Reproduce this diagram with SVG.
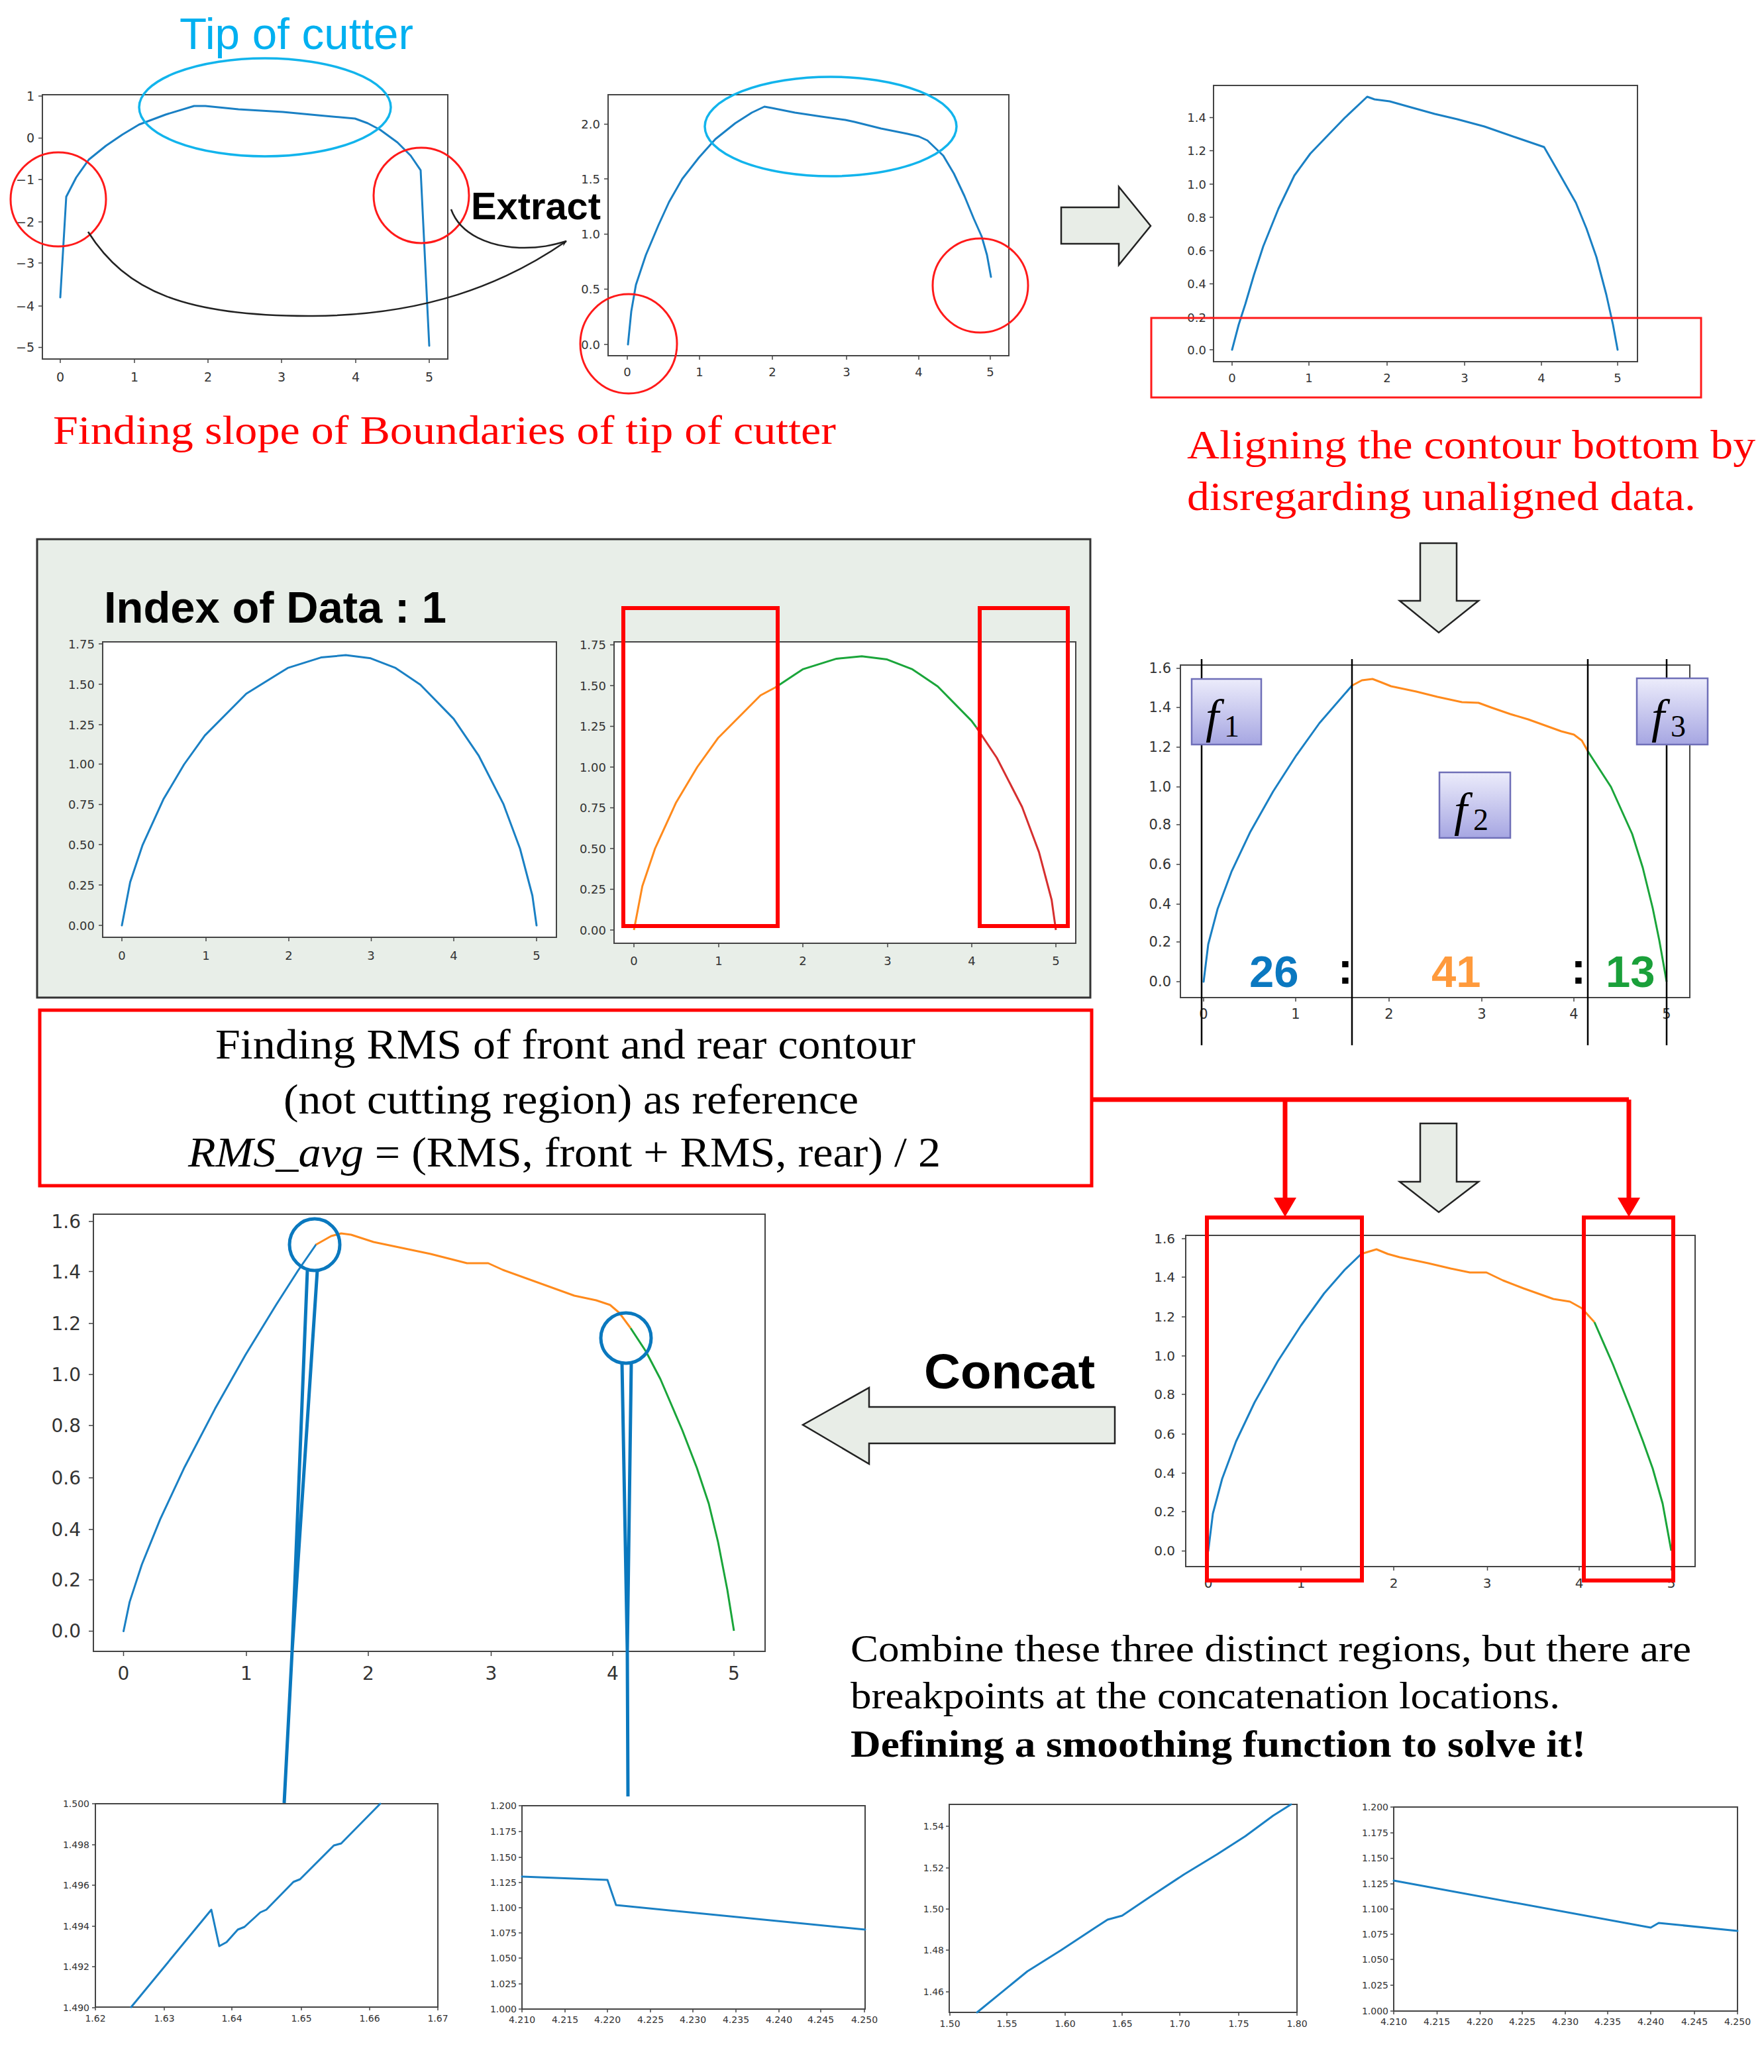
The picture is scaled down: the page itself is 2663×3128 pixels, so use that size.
<svg xmlns="http://www.w3.org/2000/svg" width="2663" height="3128" viewBox="0 0 2663 3128">
<style>
.ax{fill:#fff;stroke:#444;stroke-width:2}
.tk{stroke:#444;stroke-width:1.5;fill:none}
.tl{font-family:'DejaVu Sans',sans-serif;fill:#333}
.e{text-anchor:end}
.m{text-anchor:middle}
.cb{fill:none;stroke:#1a80c4;stroke-width:3;stroke-linejoin:round;stroke-linecap:round}
.co{fill:none;stroke:#ff8a1c;stroke-width:3;stroke-linejoin:round}
.cg{fill:none;stroke:#1aa53a;stroke-width:3;stroke-linejoin:round}
.cr{fill:none;stroke:#d62f2f;stroke-width:3;stroke-linejoin:round}
.redc{fill:none;stroke:#ff1a1a;stroke-width:3}
.cyc{fill:none;stroke:#12b4ec;stroke-width:3.5}
.rbox{fill:none;stroke:#ff0000;stroke-width:6}
.blk{fill:#e8ede7;stroke:#222;stroke-width:2.5}
.serif{font-family:'Liberation Serif','Times New Roman',serif}
.sans{font-family:'Liberation Sans',Arial,sans-serif}
.fbox{fill:url(#fg);stroke:#6f6fb8;stroke-width:2.5}
.callout{fill:none;stroke:#0a78be;stroke-width:5;stroke-linejoin:round}
</style>
<defs>
<linearGradient id="fg" x1="0" y1="0" x2="0" y2="1">
<stop offset="0" stop-color="#ececfb"/>
<stop offset="1" stop-color="#a6a6e2"/>
</linearGradient>
<marker id="ah" viewBox="0 0 12 10" refX="11" refY="5" markerWidth="9" markerHeight="9" orient="auto" markerUnits="userSpaceOnUse">
<path d="M0,0 L12,5 L0,10 L4,5 Z" fill="#111"/>
</marker>
</defs>
<rect width="2663" height="3128" fill="#fff"/>

<!-- Top-left plot -->
<g id="plot1">
<rect class="ax" x="64" y="143" width="612" height="399"/>
<path class="tk" d="M58,145H64M58,208.5H64M58,271H64M58,335H64M58,397H64M58,462H64M58,524.5H64M91,542V548M203,542V548M314,542V548M425,542V548M537,542V548M648,542V548"/>
<g class="tl e" font-size="19">
<text x="52" y="152">1</text><text x="52" y="215">0</text><text x="52" y="278">−1</text><text x="52" y="342">−2</text><text x="52" y="404">−3</text><text x="52" y="469">−4</text><text x="52" y="531">−5</text>
</g>
<g class="tl m" font-size="19">
<text x="91" y="576">0</text><text x="203" y="576">1</text><text x="314" y="576">2</text><text x="425" y="576">3</text><text x="537" y="576">4</text><text x="648" y="576">5</text>
</g>
<polyline class="cb" points="91,449 100,297 115,268 134,241 160,220 185,203 210,188 250,173 293,160 310,160 360,165 427,169 480,174 536,179 555,186 574,196 600,215 620,235 635,257 648,522"/>
<ellipse class="cyc" cx="400" cy="162" rx="190" ry="74"/>
<ellipse class="redc" cx="88" cy="301" rx="72" ry="71"/>
<ellipse class="redc" cx="636" cy="295" rx="72" ry="72"/>
</g>
<text id="tip-label" class="sans" x="271" y="74" font-size="66" fill="#00b0f0" textLength="353" lengthAdjust="spacingAndGlyphs">Tip of cutter</text>
<text id="extract-label" class="sans" x="711" y="331" font-size="57" font-weight="bold" fill="#000" textLength="196" lengthAdjust="spacingAndGlyphs">Extract</text>
<text id="caption1" class="serif" x="80" y="670" font-size="62" fill="#ff0000" textLength="1182" lengthAdjust="spacingAndGlyphs">Finding slope of Boundaries of tip of cutter</text>

<!-- Top-middle plot -->
<g id="plot2">
<rect class="ax" x="918" y="143" width="605" height="394"/>
<path class="tk" d="M912,187.5H918M912,270H918M912,353.6H918M912,436.6H918M912,520H918M947,537V543M1056,537V543M1166,537V543M1278,537V543M1387,537V543M1495,537V543"/>
<g class="tl e" font-size="18">
<text x="906" y="194">2.0</text><text x="906" y="277">1.5</text><text x="906" y="360">1.0</text><text x="906" y="443">0.5</text><text x="906" y="527">0.0</text>
</g>
<g class="tl m" font-size="18">
<text x="947" y="568">0</text><text x="1056" y="568">1</text><text x="1166" y="568">2</text><text x="1278" y="568">3</text><text x="1387" y="568">4</text><text x="1495" y="568">5</text>
</g>
<polyline class="cb" points="948,520 953,470 960,430 975,385 994,340 1010,305 1030,270 1055,238 1080,210 1110,186 1135,170 1154,161 1165,163 1200,170 1240,176 1276,181 1290,184 1330,194 1370,202 1387,206 1400,212 1424,235 1440,262 1456,296 1470,330 1482,357 1490,385 1496,418"/>
<ellipse class="cyc" cx="1254" cy="191" rx="190" ry="75"/>
<ellipse class="redc" cx="949" cy="519" rx="73" ry="75"/>
<ellipse class="redc" cx="1480" cy="431" rx="72" ry="71"/>
</g>

<!-- Top-right plot -->
<g id="plot3">
<rect class="ax" x="1832" y="129" width="640" height="417"/>
<path class="tk" d="M1826,177.5H1832M1826,227.6H1832M1826,278H1832M1826,328H1832M1826,378.6H1832M1826,428.6H1832M1826,479.6H1832M1826,528H1832M1860,546V552M1976,546V552M2094,546V552M2211,546V552M2327,546V552M2442,546V552"/>
<g class="tl e" font-size="18">
<text x="1821" y="184">1.4</text><text x="1821" y="234">1.2</text><text x="1821" y="285">1.0</text><text x="1821" y="335">0.8</text><text x="1821" y="385">0.6</text><text x="1821" y="435">0.4</text><text x="1821" y="486">0.2</text><text x="1821" y="535">0.0</text>
</g>
<g class="tl m" font-size="18">
<text x="1860" y="577">0</text><text x="1976" y="577">1</text><text x="2094" y="577">2</text><text x="2211" y="577">3</text><text x="2327" y="577">4</text><text x="2442" y="577">5</text>
</g>
<polyline class="cb" points="1860,528 1870,490 1880,459 1893,415 1907,372 1930,315 1954,265 1978,232 2002,207 2030,178 2064,146 2075,150 2098,153 2130,162 2166,172 2200,180 2241,191 2290,208 2331,222 2350,255 2379,306 2395,345 2410,388 2425,445 2435,490 2442,528"/>
<rect x="1738" y="480" width="830" height="120" fill="none" stroke="#ff1a1a" stroke-width="3"/>
</g>
<text id="caption2a" class="serif" x="1792" y="692" font-size="62" fill="#ff0000" textLength="858" lengthAdjust="spacingAndGlyphs">Aligning the contour bottom by</text>
<text id="caption2b" class="serif" x="1792" y="770" font-size="62" fill="#ff0000" textLength="768" lengthAdjust="spacingAndGlyphs">disregarding unaligned data.</text>

<!-- Index of data panel -->
<g id="index-panel">
<rect x="56" y="814" width="1590" height="692" fill="#e8eee8" stroke="#333" stroke-width="3"/>
<text class="sans" x="157" y="940" font-size="67" font-weight="bold" fill="#000" textLength="517" lengthAdjust="spacingAndGlyphs">Index of Data : 1</text>
<rect class="ax" x="155" y="969" width="685" height="446"/>
<path class="tk" d="M149,972H155M149,1033H155M149,1094H155M149,1153.5H155M149,1214.6H155M149,1275H155M149,1336H155M149,1397H155M184,1415V1421M311,1415V1421M436,1415V1421M560.5,1415V1421M685,1415V1421M810,1415V1421"/>
<g class="tl e" font-size="18">
<text x="143" y="979">1.75</text><text x="143" y="1040">1.50</text><text x="143" y="1101">1.25</text><text x="143" y="1160">1.00</text><text x="143" y="1221">0.75</text><text x="143" y="1282">0.50</text><text x="143" y="1343">0.25</text><text x="143" y="1404">0.00</text>
</g>
<g class="tl m" font-size="18">
<text x="184" y="1449">0</text><text x="311" y="1449">1</text><text x="436" y="1449">2</text><text x="560" y="1449">3</text><text x="685" y="1449">4</text><text x="810" y="1449">5</text>
</g>
<polyline class="cb" points="184,1397 196.5,1331.7 215.3,1275.6 246.6,1206.8 277.9,1154 309.2,1110.4 371.8,1047.2 434.4,1008.4 484.5,992.6 522,989 559.6,993.8 597.2,1008.4 634.7,1033.8 684.8,1085.1 722.4,1140.3 759.9,1213.6 785,1281 803.7,1352 810,1397"/>
<rect class="ax" x="927" y="969" width="697" height="455"/>
<path class="tk" d="M921,973.5H927M921,1035H927M921,1096.5H927M921,1158H927M921,1219.5H927M921,1281H927M921,1342.5H927M921,1404H927M957,1424V1430M1085,1424V1430M1212,1424V1430M1340,1424V1430M1467,1424V1430M1594,1424V1430"/>
<g class="tl e" font-size="18">
<text x="915" y="980">1.75</text><text x="915" y="1042">1.50</text><text x="915" y="1103">1.25</text><text x="915" y="1165">1.00</text><text x="915" y="1226">0.75</text><text x="915" y="1288">0.50</text><text x="915" y="1349">0.25</text><text x="915" y="1411">0.00</text>
</g>
<g class="tl m" font-size="18">
<text x="957" y="1457">0</text><text x="1085" y="1457">1</text><text x="1212" y="1457">2</text><text x="1340" y="1457">3</text><text x="1467" y="1457">4</text><text x="1594" y="1457">5</text>
</g>
<polyline class="co" points="957,1404 969.7,1337.8 988.9,1281 1020.7,1211.4 1052.6,1158 1084.4,1113.7 1148.1,1049.8 1171,1037.5"/>
<polyline class="cg" points="1171,1037.5 1211.8,1010.4 1262.8,994.4 1301,990.7 1339.2,995.6 1377.4,1010.4 1415.6,1036.2 1466.6,1088.1 1474,1098.2"/>
<polyline class="cr" points="1474,1098.2 1504.8,1144 1543,1218.3 1568.5,1286.4 1587.6,1358.5 1594,1404"/>
<rect class="rbox" x="941" y="918" width="233" height="480"/>
<rect class="rbox" x="1479" y="918" width="133" height="480"/>
</g>

<!-- Block arrows (top) -->
<polygon id="arrow-down1" class="blk" points="2144,820 2199,820 2199,907 2232,907 2172,955 2113,907 2144,907"/>
<polygon id="arrow-right" class="blk" points="1602,313 1689,313 1689,282 1737,341 1689,400 1689,368 1602,368"/>

<!-- f plot -->
<g id="fplot">
<rect class="ax" x="1782" y="1004" width="769" height="502"/>
<path class="tk" d="M1776,1009H1782M1776,1068H1782M1776,1128H1782M1776,1188H1782M1776,1245H1782M1776,1305H1782M1776,1365H1782M1776,1422H1782M1776,1482H1782M1817,1506V1512M1956,1506V1512M2097,1506V1512M2237,1506V1512M2376,1506V1512M2516,1506V1512"/>
<g class="tl e" font-size="21">
<text x="1768" y="1016">1.6</text><text x="1768" y="1075">1.4</text><text x="1768" y="1135">1.2</text><text x="1768" y="1195">1.0</text><text x="1768" y="1252">0.8</text><text x="1768" y="1312">0.6</text><text x="1768" y="1372">0.4</text><text x="1768" y="1429">0.2</text><text x="1768" y="1489">0.0</text>
</g>
<g class="tl m" font-size="21">
<text x="1817" y="1538">0</text><text x="1956" y="1538">1</text><text x="2097" y="1538">2</text><text x="2237" y="1538">3</text><text x="2376" y="1538">4</text><text x="2516" y="1538">5</text>
</g>
<polyline class="cb" points="1817,1482 1824,1425.5 1838,1372.6 1859,1316.2 1887,1256.8 1922,1194.7 1957,1140.3 1992,1091.5 2041,1035"/>
<polyline class="co" points="2041,1035 2056,1027 2072,1025 2085,1030 2100,1036 2138,1044 2170,1052 2207,1060 2232,1061 2251,1068 2280,1078 2307,1086 2357,1104 2376,1109 2388,1118 2397,1134"/>
<polyline class="cg" points="2397,1134 2432,1188 2464,1259 2480,1310 2495,1371 2505,1420 2516,1482"/>
<path d="M1814,995V1578M2041,995V1578M2397,995V1578M2516,995V1578" stroke="#000" stroke-width="2.5" fill="none"/>
<rect class="fbox" x="1799" y="1025" width="105" height="99"/>
<rect class="fbox" x="2173" y="1166" width="107" height="99"/>
<rect class="fbox" x="2471" y="1024" width="107" height="100"/>
<g class="serif" fill="#000">
<text x="1820" y="1106" font-size="72" font-style="italic">f</text><text x="1848" y="1112" font-size="46">1</text>
<text x="2195" y="1247" font-size="72" font-style="italic">f</text><text x="2224" y="1253" font-size="46">2</text>
<text x="2493" y="1106" font-size="72" font-style="italic">f</text><text x="2522" y="1112" font-size="46">3</text>
</g>
<g class="sans" font-weight="bold" font-size="67">
<text x="1886" y="1490" fill="#0a78c0">26</text>
<text x="2031" y="1485" fill="#000" text-anchor="middle">:</text>
<text x="2161" y="1490" fill="#ff9a3c">41</text>
<text x="2383" y="1485" fill="#000" text-anchor="middle">:</text>
<text x="2424" y="1490" fill="#1aa03a">13</text>
</g>
</g>

<!-- RMS box -->
<g id="rms-box">
<rect x="60" y="1525" width="1588" height="265" fill="#fff" stroke="#ff0000" stroke-width="5"/>
<g class="serif" font-size="64" fill="#000">
<text x="325" y="1598" textLength="1057" lengthAdjust="spacingAndGlyphs">Finding RMS of front and rear contour</text>
<text x="428" y="1681" textLength="868" lengthAdjust="spacingAndGlyphs">(not cutting region) as reference</text>
<text x="284" y="1761" textLength="1136" lengthAdjust="spacingAndGlyphs"><tspan font-style="italic">RMS_avg</tspan> = (RMS, front + RMS, rear) / 2</text>
</g>
</g>

<!-- Down arrow 2 -->
<polygon id="arrow-down2" class="blk" points="2144,1696 2199,1696 2199,1784 2232,1784 2172,1830 2113,1784 2144,1784"/>

<!-- Concat plot (right) -->
<g id="concat-plot">
<rect class="ax" x="1790" y="1865" width="769" height="500"/>
<path class="tk" d="M1784,1870H1790M1784,1928H1790M1784,1988H1790M1784,2047H1790M1784,2105H1790M1784,2165H1790M1784,2224H1790M1784,2282H1790M1784,2341.5H1790M1824,2365V2371M1964,2365V2371M2104,2365V2371M2245.5,2365V2371M2384,2365V2371M2523,2365V2371"/>
<g class="tl e" font-size="20">
<text x="1774" y="1877">1.6</text><text x="1774" y="1935">1.4</text><text x="1774" y="1995">1.2</text><text x="1774" y="2054">1.0</text><text x="1774" y="2112">0.8</text><text x="1774" y="2172">0.6</text><text x="1774" y="2231">0.4</text><text x="1774" y="2289">0.2</text><text x="1774" y="2348">0.0</text>
</g>
<g class="tl m" font-size="20">
<text x="1824" y="2397">0</text><text x="1964" y="2397">1</text><text x="2104" y="2397">2</text><text x="2245" y="2397">3</text><text x="2384" y="2397">4</text><text x="2523" y="2397">5</text>
</g>
<polyline class="cb" points="1824,2341.5 1831,2285 1845,2232.5 1866,2176 1894,2117 1929,2055 1964,2001 1999,1952.5 2030,1917 2055,1893"/>
<polyline class="co" points="2055,1893 2078,1886 2095,1893 2113,1898 2156,1907 2190,1915 2219,1921 2244,1921 2269,1933 2300,1945 2345,1961 2370,1965 2388,1975 2407,1996"/>
<polyline class="cg" points="2407,1996 2435,2060 2464,2133 2480,2175 2495,2217 2510,2270 2523,2341"/>
<rect class="rbox" x="1822" y="1838" width="234" height="548"/>
<rect class="rbox" x="2391" y="1838" width="135" height="548"/>
</g>

<!-- Concat arrow -->
<polygon id="arrow-left" class="blk" points="1683,2124 1312,2124 1312,2095 1212,2151 1312,2210 1312,2179 1683,2179"/>
<text id="concat-label" class="sans" x="1395" y="2096" font-size="74" font-weight="bold" fill="#000" textLength="258" lengthAdjust="spacingAndGlyphs">Concat</text>

<!-- Big plot bottom-left -->
<g id="big-plot">
<rect class="ax" x="141" y="1833" width="1014" height="660"/>
<path class="tk" d="M134,1844H141M134,1919.5H141M134,1998H141M134,2075H141M134,2152H141M134,2231H141M134,2309H141M134,2385H141M134,2462.5H141M186.5,2493V2500M372,2493V2500M556,2493V2500M741.5,2493V2500M925,2493V2500M1108,2493V2500"/>
<g class="tl e" font-size="28">
<text x="122" y="1854">1.6</text><text x="122" y="1930">1.4</text><text x="122" y="2008">1.2</text><text x="122" y="2085">1.0</text><text x="122" y="2162">0.8</text><text x="122" y="2241">0.6</text><text x="122" y="2319">0.4</text><text x="122" y="2395">0.2</text><text x="122" y="2472">0.0</text>
</g>
<g class="tl m" font-size="28">
<text x="186.5" y="2536">0</text><text x="372" y="2536">1</text><text x="556" y="2536">2</text><text x="741.5" y="2536">3</text><text x="925" y="2536">4</text><text x="1108" y="2536">5</text>
</g>
<polyline class="cb" stroke-width="4" points="186.5,2462.5 195.7,2418.4 214.1,2362 241.8,2293.6 278.7,2214.7 324.7,2126.6 370.8,2045 416.9,1969.7 450,1918 477,1879"/>
<polyline class="co" stroke-width="4" points="477,1879 500,1866 515,1862 530,1864 564,1875 650,1893 705,1907 737,1907 759,1917 867,1956 900,1963 921,1970 935,1982 952,2005"/>
<polyline class="cg" stroke-width="4" points="952,2005 975,2040 997,2082 1030,2159 1052,2216 1070,2270 1084,2328 1098,2400 1108,2462"/>
</g>

<!-- Connectors -->
<g id="connectors">
<path d="M1648,1660H2459M1940,1660V1812M2459,1660V1812" fill="none" stroke="#ff0000" stroke-width="7" stroke-linejoin="round"/>
<polygon points="1923,1808 1957,1808 1940,1837" fill="#ff0000"/>
<polygon points="2442,1808 2476,1808 2459,1837" fill="#ff0000"/>
<path d="M133,350 C190,440 280,478 472,477 C640,476 760,430 855,364" fill="none" stroke="#222" stroke-width="2.5" marker-end="url(#ah)"/>
<path d="M681,316 C695,355 740,372 784,374 C815,375 835,370 855,364" fill="none" stroke="#222" stroke-width="2.5"/>
</g>

<!-- Callouts -->
<g id="callouts">
<ellipse class="callout" cx="475" cy="1879" rx="38" ry="39"/>
<path class="callout" d="M464,1918 L441,2492 L429,2722 M479,1918 L441,2492"/>
<ellipse class="callout" cx="945" cy="2020" rx="38" ry="38"/>
<path class="callout" d="M939,2058 L947,2492 L948,2712 M953,2058 L947,2492"/>
</g>

<!-- Combine text -->
<g id="combine-text" class="serif" font-size="58" fill="#000">
<text x="1284" y="2508" textLength="1269" lengthAdjust="spacingAndGlyphs">Combine these three distinct regions, but there are</text>
<text x="1284" y="2579" textLength="1071" lengthAdjust="spacingAndGlyphs">breakpoints at the concatenation locations.</text>
<text x="1284" y="2652" font-weight="bold" textLength="1110" lengthAdjust="spacingAndGlyphs">Defining a smoothing function to solve it!</text>
</g>

<!-- Small plot A -->
<g id="small-a">
<rect class="ax" x="144" y="2723" width="517" height="307"/>
<path class="tk" d="M139,2723H144M139,2785H144M139,2846H144M139,2908H144M139,2969H144M139,3031H144M144,3030V3035M248,3030V3035M350,3030V3035M455,3030V3035M558,3030V3035M661,3030V3035"/>
<g class="tl e" font-size="14">
<text x="135" y="2728">1.500</text><text x="135" y="2790">1.498</text><text x="135" y="2851">1.496</text><text x="135" y="2913">1.494</text><text x="135" y="2974">1.492</text><text x="135" y="3036">1.490</text>
</g>
<g class="tl m" font-size="14">
<text x="144" y="3052">1.62</text><text x="248" y="3052">1.63</text><text x="350" y="3052">1.64</text><text x="455" y="3052">1.65</text><text x="558" y="3052">1.66</text><text x="661" y="3052">1.67</text>
</g>
<polyline class="cb" stroke-width="2.5" points="198,3030 319,2883 331,2938 342,2932 359,2913 369,2909 393,2887 402,2883 443,2841 453,2837 504,2786 515,2783 574,2723"/>
</g>

<!-- Small plot B -->
<g id="small-b">
<rect class="ax" x="788" y="2726" width="518" height="307"/>
<path class="tk" d="M783,2726H788M783,2765H788M783,2804H788M783,2842H788M783,2880H788M783,2918H788M783,2956H788M783,2995H788M783,3033H788M788,3033V3038M853,3033V3038M917,3033V3038M982,3033V3038M1046,3033V3038M1111,3033V3038M1176,3033V3038M1239,3033V3038M1305,3033V3038"/>
<g class="tl e" font-size="14">
<text x="780" y="2731">1.200</text><text x="780" y="2770">1.175</text><text x="780" y="2809">1.150</text><text x="780" y="2847">1.125</text><text x="780" y="2885">1.100</text><text x="780" y="2923">1.075</text><text x="780" y="2961">1.050</text><text x="780" y="3000">1.025</text><text x="780" y="3038">1.000</text>
</g>
<g class="tl m" font-size="14">
<text x="788" y="3054">4.210</text><text x="853" y="3054">4.215</text><text x="917" y="3054">4.220</text><text x="982" y="3054">4.225</text><text x="1046" y="3054">4.230</text><text x="1111" y="3054">4.235</text><text x="1176" y="3054">4.240</text><text x="1239" y="3054">4.245</text><text x="1305" y="3054">4.250</text>
</g>
<polyline class="cb" stroke-width="2.5" points="788,2833 917,2838 930,2876 1306,2913"/>
</g>

<!-- Small plot C -->
<g id="small-c">
<rect class="ax" x="1433" y="2724" width="525" height="314"/>
<path class="tk" d="M1428,2757H1433M1428,2820H1433M1428,2882H1433M1428,2944H1433M1428,3007H1433M1434,3038V3043M1520,3038V3043M1608,3038V3043M1694,3038V3043M1781,3038V3043M1870,3038V3043M1958,3038V3043"/>
<g class="tl e" font-size="14">
<text x="1425" y="2762">1.54</text><text x="1425" y="2825">1.52</text><text x="1425" y="2887">1.50</text><text x="1425" y="2949">1.48</text><text x="1425" y="3012">1.46</text>
</g>
<g class="tl m" font-size="14">
<text x="1434" y="3060">1.50</text><text x="1520" y="3060">1.55</text><text x="1608" y="3060">1.60</text><text x="1694" y="3060">1.65</text><text x="1781" y="3060">1.70</text><text x="1870" y="3060">1.75</text><text x="1958" y="3060">1.80</text>
</g>
<polyline class="cb" stroke-width="2.5" points="1475,3038 1551,2976 1602,2944 1652,2911 1672,2898 1694,2892 1737,2863 1787,2830 1838,2799 1880,2772 1922,2741 1949,2724"/>
</g>

<!-- Small plot D -->
<g id="small-d">
<rect class="ax" x="2104" y="2728" width="519" height="308"/>
<path class="tk" d="M2099,2728H2104M2099,2767H2104M2099,2805.5H2104M2099,2844H2104M2099,2882H2104M2099,2920H2104M2099,2958H2104M2099,2997H2104M2099,3036H2104M2104,3036V3041M2169.5,3036V3041M2234.5,3036V3041M2298,3036V3041M2363,3036V3041M2427,3036V3041M2492,3036V3041M2558,3036V3041M2623,3036V3041"/>
<g class="tl e" font-size="14">
<text x="2096" y="2733">1.200</text><text x="2096" y="2772">1.175</text><text x="2096" y="2810">1.150</text><text x="2096" y="2849">1.125</text><text x="2096" y="2887">1.100</text><text x="2096" y="2925">1.075</text><text x="2096" y="2963">1.050</text><text x="2096" y="3002">1.025</text><text x="2096" y="3041">1.000</text>
</g>
<g class="tl m" font-size="14">
<text x="2104" y="3057">4.210</text><text x="2169" y="3057">4.215</text><text x="2234" y="3057">4.220</text><text x="2298" y="3057">4.225</text><text x="2363" y="3057">4.230</text><text x="2427" y="3057">4.235</text><text x="2492" y="3057">4.240</text><text x="2558" y="3057">4.245</text><text x="2623" y="3057">4.250</text>
</g>
<polyline class="cb" stroke-width="2.5" points="2104,2839 2492,2910 2504,2903 2623,2915"/>
</g>
</svg>
